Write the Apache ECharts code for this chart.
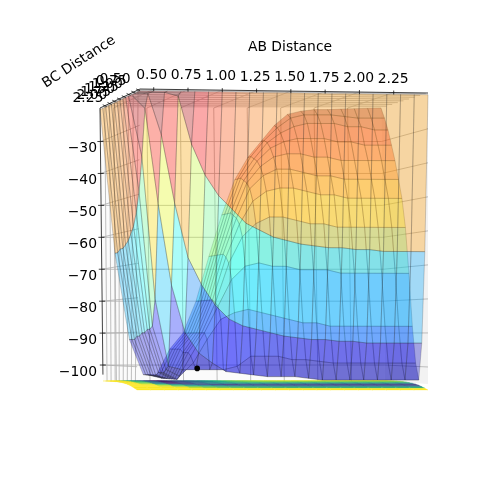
<!DOCTYPE html>
<html><head><meta charset="utf-8">
<style>html,body{margin:0;padding:0;background:#fff}#c{width:500px;height:496px}</style>
<script src="https://cdn.jsdelivr.net/npm/echarts@6/dist/echarts.min.js"></script>
</head><body><div id="c"></div>
<script>
const abValues=[0.4,0.5,0.6,0.7,0.8,0.9,1.0,1.1,1.2,1.3,1.4,1.5,1.6,1.7,1.8,1.9,2.0,2.1,2.2,2.3,2.4,2.5];
const bcValues=[0.4,0.55,0.7,0.85,1.0,1.15,1.3,1.45,1.6,1.75,1.9,2.05,2.2,2.35,2.5];
const energy=[
[-20,-20,-20,-20,-20,-20,-20,-20,-20,-20,-20,-20,-20,-20,-20,-20,-20,-20,-20,-20,-20,-20],
[-20,-20,-20,-21,-35,-44,-50,-54,-58,-60,-62,-63,-64,-64.5,-65,-65,-65.5,-65.5,-66,-66,-66,-66],
[-20,-20,-32,-52,-68,-76,-82,-86,-88,-89,-90,-91,-91.5,-92,-92,-92.5,-92.5,-93,-93,-93,-93,-93],
[-20,-24,-52,-76,-90,-96,-99,-101.5,-102,-102.5,-103,-103,-103,-103.5,-104,-104,-104,-104,-104,-104,-104,-104],
[-20,-38,-80,-100,-101,-101,-101,-101,-100,-97,-97,-97,-98,-98,-98.5,-99,-99,-99,-99,-99,-99,-99],
[-20,-48,-88,-101,-103,-99,-92,-86,-84,-83,-84,-85,-86,-87,-87,-88,-88,-88,-88,-88,-88,-88],
[-20,-54,-89,-102,-104,-97,-90,-82,-74,-70,-69,-70,-70,-71,-71,-71,-72,-72,-72,-72,-72,-72],
[-20,-58,-89,-102,-104,-96,-90,-81,-69,-61,-57,-55,-55,-56,-57,-57,-58,-58,-58,-58,-58,-58],
[-20,-60,-90,-102,-104,-96,-90,-80,-67,-57,-50,-47,-46,-46,-47,-48,-48,-49,-49,-49,-49,-49],
[-20,-62,-90,-103,-104,-96,-90,-80,-66,-55,-46,-42,-40,-40,-41,-42,-42,-43,-43,-43,-43,-43],
[-20,-63,-91,-103,-104,-95,-90,-80,-66,-54,-44,-39,-36,-35,-35,-36,-36,-37,-37,-37,-37,-37],
[-20,-64,-91,-103,-104,-95,-90,-80,-66,-53,-43,-37,-33,-31,-30,-30,-30,-31,-31,-32,-32,-32],
[-20,-64,-92,-103,-104,-95,-90,-80,-66,-53,-42,-36,-31,-28,-26,-25,-25,-25,-26,-26,-27,-27],
[-20,-65,-92,-103,-103.5,-95,-90,-80,-66,-53,-42,-35,-30,-26,-23,-22,-22,-22,-22.5,-23,-23,-23],
[-20,-65,-92,-103,-103,-95,-90,-80,-66,-53,-42,-35,-30,-25,-21.5,-20.5,-20,-20,-19.8,-19.7,-19.6,-19.5]
];
const abTicks=[0.5,0.75,1.0,1.25,1.5,1.75,2.0,2.25];
const abTickLabels=['0.50','0.75','1.00','1.25','1.50','1.75','2.00','2.25'];
const bcTicks=[0.5,0.75,1.0,1.25,1.5,1.75,2.0,2.25];
const bcTickLabels=['0.50','0.75','1.00','1.25','1.50','1.75','2.00','2.25'];
const zTicks=[-30,-40,-50,-60,-70,-80,-90,-100];
const zTickLabels=['\u221230','\u221240','\u221250','\u221260','\u221270','\u221280','\u221290','\u2212100'];
const saddlePoint=[0.9,0.93,-100.6];

const A0=0.4,A1=2.5,B0=0.4,B1=2.5,ZT=-19.5,ZB=-105;
const cam={tfl:[100,108],tfr:[381,108],tnl:[140,89],tnr:[428,93],bfl:[103,381],bfr:[385,381],bnl:[137,384],bnr:[428,384]};
function lerp(a,b,t){return a+(b-a)*t;}
function project(a,b,z){
  const u=(a-A0)/(A1-A0),d=(B1-b)/(B1-B0),t=(ZT-z)/(ZT-ZB);
  const q=k=>{
    const top=lerp(lerp(cam.tfl[k],cam.tfr[k],u),lerp(cam.tnl[k],cam.tnr[k],u),d);
    const bot=lerp(lerp(cam.bfl[k],cam.bfr[k],u),lerp(cam.bnl[k],cam.bnr[k],u),d);
    return lerp(top,bot,t);
  };
  return [q(0),q(1)];
}
function floorPoint(a,b){
  const d=(B1-b)/(B1-B0);
  return [project(a,b,ZB)[0],lerp(381,390,d*d*d)];
}
function jet(t){
  const c=x=>Math.round(255*Math.max(0,Math.min(1,x)));
  return [c(Math.min(4*t-1.5,-4*t+4.5)),c(Math.min(4*t-0.5,-4*t+3.5)),c(Math.min(4*t+0.5,-4*t+2.5))];
}
const viridisStops=[[68,1,84],[71,44,122],[59,81,139],[44,113,142],[33,144,141],[39,173,129],[92,200,99],[170,220,50],[253,231,37]];
function viridis(t){
  const p=Math.max(0,Math.min(0.9999,t))*(viridisStops.length-1),i=Math.floor(p),f=p-i;
  return viridisStops[i].map((v,k)=>Math.round(lerp(v,viridisStops[i+1][k],f)));
}
const facets=[];
for(let j=bcValues.length-2;j>=0;j--)for(let i=0;i<abValues.length-1;i++)facets.push([i,j]);
function facetMean(i,j){return (energy[j][i]+energy[j][i+1]+energy[j+1][i]+energy[j+1][i+1])/4;}
function facetMax(i,j){return Math.max(energy[j][i],energy[j][i+1],energy[j+1][i],energy[j+1][i+1]);}
function norm(z){return (z+104)/84.5;}
const quad=(i,j)=>[[i,j],[i+1,j],[i+1,j+1],[i,j+1]];
function corners(i,j){return quad(i,j).map(([m,n])=>project(abValues[m],bcValues[n],energy[n][m]));}
function floorCorners(i,j){return quad(i,j).map(([m,n])=>floorPoint(abValues[m],bcValues[n]));}
function toPx(api,pts){return pts.map(p=>api.coord(p));}

const lines=[],texts=[];
const GRID='rgba(176,176,176,0.9)';
zTicks.forEach(z=>{
  lines.push({a:project(A0,B0,z),b:project(A0,B1,z),c:GRID});
  lines.push({a:project(A0,B1,z),b:project(A1,B1,z),c:GRID});
  lines.push({a:project(A1,B1,z),b:project(A1,B0,z),c:GRID});
});
abTicks.forEach(a=>{
  lines.push({a:project(a,B1,ZT),b:project(a,B1,ZB),c:GRID});
  lines.push({a:project(a,B0,ZT),b:project(a,B1,ZT),c:GRID});
});
bcTicks.forEach(b=>{
  lines.push({a:project(A0,b,ZT),b:project(A0,b,ZB),c:GRID});
  lines.push({a:project(A0,b,ZT),b:project(A1,b,ZT),c:GRID});
});
const axisLines=[
  {a:project(A0,B1,ZT),b:project(A0,B1,ZB+2)},
  {a:project(A0,B1,ZT),b:project(A0,B0,ZT)},
  {a:project(A0,B0,ZT),b:project(A1,B0,ZT)}
];
zTicks.forEach(z=>{const p=project(A0,B1,z);axisLines.push({a:[p[0]-3,p[1]],b:[p[0]+3,p[1]]});});
abTicks.forEach(a=>{const p=project(a,B0,ZT);axisLines.push({a:[p[0],p[1]-2],b:[p[0],p[1]+2]});});
bcTicks.forEach(b=>{const p=project(A0,b,ZT);axisLines.push({a:[p[0]-2,p[1]-1],b:[p[0]+2,p[1]+1]});});

abTicks.forEach((a,i)=>{const p=project(a,B0,ZT);texts.push({s:abTickLabels[i],x:p[0]-2+i*0.2,y:p[1]-14+(i*0.1),al:'center'});});
bcTicks.slice().reverse().forEach(b=>{
  const idx=bcTicks.indexOf(b);
  texts.push({s:bcTickLabels[idx],x:lerp(115,88,idx/7),y:lerp(79,98,idx/7),al:'center'});
});
zTicks.forEach((z,i)=>{const p=project(A0,B1,z);texts.push({s:zTickLabels[i],x:97,y:p[1]+7,al:'right'});});
texts.push({s:'AB Distance',x:290,y:47,al:'center'});
texts.push({s:'BC Distance',x:79,y:62,al:'center',rot:33*Math.PI/180});

const panes=[
  {pts:[project(A0,B0,ZT),project(A0,B1,ZT),project(A0,B1,ZB),project(A0,B0,ZB)],f:'#f2f2f2'},
  {pts:[project(A1,B0,ZT),project(A1,B1,ZT),project(A1,B1,ZB),project(A1,B0,ZB)],f:'#f2f2f2'},
  {pts:[project(A0,B1,ZT),project(A1,B1,ZT),project(A1,B1,ZB),project(A0,B1,ZB)],f:'#fbfbfb'},
  {pts:[project(A0,B0,ZT),project(A1,B0,ZT),project(A1,B1,ZT),project(A0,B1,ZT)],f:'#ececec'}
];
const option={
  animation:false,
  grid:{left:0,right:0,top:0,bottom:0},
  xAxis:{type:'value',min:0,max:500,show:false},
  yAxis:{type:'value',min:0,max:496,inverse:true,show:false},
  series:[
    {type:'custom',coordinateSystem:'cartesian2d',silent:true,clip:false,progressive:0,
     data:panes.map((p,i)=>[i,0]),
     renderItem(params,api){const p=panes[api.value(0)];
       return {type:'polygon',shape:{points:toPx(api,p.pts)},style:{fill:p.f,stroke:null}};}},
    {type:'custom',coordinateSystem:'cartesian2d',silent:true,clip:false,progressive:0,
     data:lines.map((l,i)=>[i,0]),
     renderItem(params,api){const l=lines[api.value(0)];const a=api.coord(l.a),b=api.coord(l.b);
       return {type:'line',shape:{x1:a[0],y1:a[1],x2:b[0],y2:b[1]},style:{stroke:l.c,lineWidth:0.9}};}},
    {type:'custom',coordinateSystem:'cartesian2d',silent:true,clip:false,progressive:0,
     data:facets,
     renderItem(params,api){const i=api.value(0),j=api.value(1);
       const c=viridis(Math.pow(Math.max(0,norm(facetMax(i,j))),0.6));
       const col='rgb('+c.join(',')+')';
       return {type:'polygon',shape:{points:toPx(api,floorCorners(i,j))},style:{fill:col,stroke:col,lineWidth:0.3}};}},
    {type:'custom',coordinateSystem:'cartesian2d',silent:true,clip:false,progressive:0,
     data:facets,
     renderItem(params,api){const i=api.value(0),j=api.value(1);
       const c=jet(norm(facetMean(i,j)));
       return {type:'polygon',shape:{points:toPx(api,corners(i,j))},
         style:{fill:'rgba('+c.join(',')+',0.33)',stroke:'rgba(40,40,40,0.36)',lineWidth:0.6}};}},
    {type:'custom',coordinateSystem:'cartesian2d',silent:true,clip:false,progressive:0,
     data:[saddlePoint],
     renderItem(params,api){const p=api.coord(project(api.value(0),api.value(1),api.value(2)));
       return {type:'circle',shape:{cx:p[0],cy:p[1],r:2.8},style:{fill:'#000'}};}},
    {type:'custom',coordinateSystem:'cartesian2d',silent:true,clip:false,progressive:0,
     data:axisLines.map((l,i)=>[i,0]),
     renderItem(params,api){const l=axisLines[api.value(0)];const a=api.coord(l.a),b=api.coord(l.b);
       return {type:'line',shape:{x1:a[0],y1:a[1],x2:b[0],y2:b[1]},style:{stroke:'#111',lineWidth:0.8}};}},
    {type:'custom',coordinateSystem:'cartesian2d',silent:true,clip:false,progressive:0,
     data:texts.map((t,i)=>[i,0]),
     renderItem(params,api){const t=texts[api.value(0)];const p=api.coord([t.x,t.y]);
       return {type:'text',x:p[0],y:p[1],rotation:t.rot||0,
         style:{text:t.s,x:0,y:0,fill:'#000',font:'13.9px "DejaVu Sans"',textAlign:t.al,textVerticalAlign:'middle',verticalAlign:'middle',textBaseline:'middle'}};}}
  ]
};
const chart=echarts.init(document.getElementById('c'),null,{renderer:'canvas'});
chart.setOption(option);
</script></body></html>
